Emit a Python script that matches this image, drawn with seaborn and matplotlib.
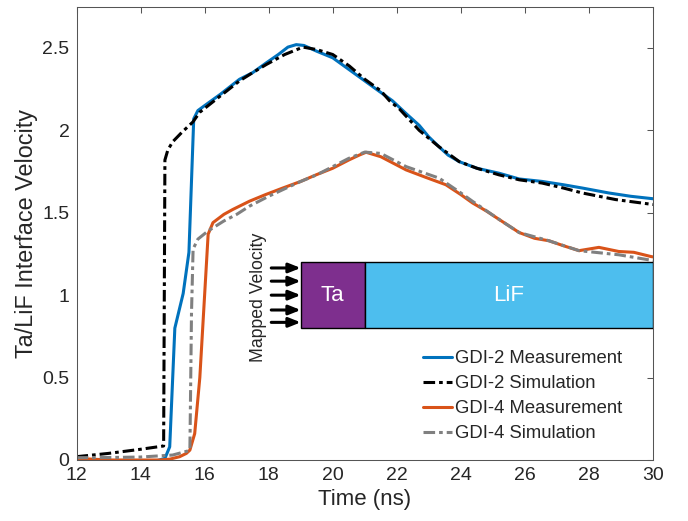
import matplotlib
matplotlib.use("Agg")
import matplotlib.pyplot as plt
import seaborn as sns
import pandas as pd
from matplotlib.patches import Rectangle

# ---------------- data ----------------
series_names = ["GDI-2 Measurement", "GDI-2 Simulation",
                "GDI-4 Measurement", "GDI-4 Simulation"]

gdi2_meas_t = [12.0, 12.5, 13.0, 13.5, 14.0, 14.5, 14.76, 14.91, 15.07, 15.33,
               15.51, 15.66, 15.79, 16.0, 16.5, 17.09, 17.5, 17.93, 18.3, 18.6,
               18.86, 19.1, 19.5, 20.0, 20.5, 21.0, 21.5, 21.86, 22.3, 22.7,
               23.0, 23.32, 23.6, 23.95, 24.5, 25.19, 25.82, 26.54, 27.2, 27.79,
               28.62, 29.3, 30.0]
gdi2_meas_v = [0.0, 0.0, -0.005, -0.005, -0.008, -0.005, 0.01, 0.08, 0.80, 1.01,
               1.26, 2.07, 2.12, 2.15, 2.22, 2.31, 2.35, 2.41, 2.46, 2.505,
               2.52, 2.515, 2.48, 2.44, 2.37, 2.30, 2.23, 2.18, 2.10, 2.03,
               1.96, 1.90, 1.85, 1.81, 1.77, 1.74, 1.705, 1.69, 1.67, 1.65,
               1.62, 1.60, 1.585]

gdi2_sim_t = [12.0, 13.0, 14.0, 14.72, 14.76, 14.85, 15.0, 15.3, 15.63, 15.85,
              16.5, 17.09, 17.5, 17.93, 18.5, 19.07, 19.5, 20.0, 20.52, 21.0,
              21.5, 21.77, 22.08, 22.7, 23.32, 23.95, 24.5, 25.19, 25.82, 26.54,
              27.2, 27.79, 28.83, 30.0]
gdi2_sim_v = [0.02, 0.04, 0.065, 0.085, 1.82, 1.88, 1.93, 1.99, 2.05, 2.11,
              2.21, 2.30, 2.35, 2.40, 2.46, 2.505, 2.49, 2.46, 2.39, 2.31,
              2.24, 2.18, 2.13, 2.00, 1.90, 1.81, 1.77, 1.73, 1.70, 1.68,
              1.65, 1.62, 1.58, 1.55]

gdi4_meas_t = [12.0, 12.5, 13.0, 13.5, 14.0, 14.6, 14.91, 15.22, 15.43, 15.54,
               15.69, 15.85, 16.11, 16.26, 16.6, 16.88, 17.4, 17.9, 18.44, 19.0,
               19.48, 20.0, 20.5, 20.83, 21.04, 21.5, 22.29, 22.9, 23.53, 24.0,
               24.36, 24.8, 25.19, 25.82, 26.3, 26.75, 27.2, 27.69, 28.31, 28.93,
               29.4, 29.92, 30.0]
gdi4_meas_v = [0.01, 0.005, 0.0, 0.0, 0.0, 0.0, 0.005, 0.02, 0.04, 0.06,
               0.16, 0.50, 1.37, 1.44, 1.49, 1.52, 1.57, 1.61, 1.65, 1.69,
               1.73, 1.77, 1.82, 1.85, 1.867, 1.84, 1.76, 1.715, 1.67, 1.61,
               1.56, 1.51, 1.46, 1.38, 1.345, 1.33, 1.30, 1.27, 1.29, 1.265,
               1.26, 1.235, 1.232]

gdi4_sim_t = [12.0, 13.0, 14.0, 15.0, 15.48, 15.54, 15.59, 15.64, 15.79, 16.11,
              16.6, 17.0, 17.4, 18.0, 18.44, 19.0, 19.5, 20.0, 20.5, 21.0,
              21.5, 22.29, 23.32, 24.0, 24.36, 25.19, 25.82, 26.75, 27.69, 28.93,
              30.0]
gdi4_sim_v = [0.014, 0.015, 0.018, 0.03, 0.055, 0.06, 0.89, 1.28, 1.34, 1.39,
              1.45, 1.49, 1.54, 1.60, 1.64, 1.69, 1.73, 1.78, 1.83, 1.868,
              1.86, 1.78, 1.71, 1.62, 1.57, 1.46, 1.38, 1.33, 1.27, 1.245,
              1.21]

x_ticks = [12, 14, 16, 18, 20, 22, 24, 26, 28, 30]
y_ticks = [0, 0.5, 1, 1.5, 2, 2.5]
y_tick_labels = ["0", "0.5", "1", "1.5", "2", "2.5"]

# inset schematic (data coords)
ta_box = (19.0, 0.8, 2.0, 0.4)
lif_box = (21.0, 0.8, 9.0, 0.4)
arrow_ys = [1.165, 1.085, 1.0, 0.91, 0.835]
arrow_x0, arrow_x1 = 18.08, 19.0

# ---------------- build table ----------------
frames = []
for name, t, v in zip(series_names,
                      [gdi2_meas_t, gdi2_sim_t, gdi4_meas_t, gdi4_sim_t],
                      [gdi2_meas_v, gdi2_sim_v, gdi4_meas_v, gdi4_sim_v]):
    frames.append(pd.DataFrame({"t": t, "v": v, "series": name}))
df = pd.concat(frames, ignore_index=True)

# ---------------- style ----------------
sns.set_style("white")
plt.rcParams["font.family"] = ["Liberation Sans", "DejaVu Sans"]
text_col = "#262626"

palette = {"GDI-2 Measurement": "#0072BD", "GDI-2 Simulation": "#000000",
           "GDI-4 Measurement": "#D95319", "GDI-4 Simulation": "#808080"}
dd = (3.8, 1.3, 1.2, 1.3)
dashes = {"GDI-2 Measurement": "", "GDI-2 Simulation": dd,
          "GDI-4 Measurement": "", "GDI-4 Simulation": dd}

fig = plt.figure(figsize=(6.88, 5.21), dpi=100)
ax = fig.add_axes([0.1112, 0.1171, 0.838, 0.870])

sns.lineplot(data=df, x="t", y="v", hue="series", style="series",
             hue_order=series_names, style_order=series_names,
             palette=palette, dashes=dashes, estimator=None, sort=False,
             linewidth=2.2, legend=False, ax=ax)

ax.set_xlim(12, 30)
ax.set_ylim(0, 2.75)
ax.set_xticks(x_ticks)
ax.set_xticklabels([str(x) for x in x_ticks])
ax.set_yticks(y_ticks)
ax.set_yticklabels(y_tick_labels)

for s in ax.spines.values():
    s.set_visible(True)
    s.set_color("#555555")
    s.set_linewidth(0.75)
ax.tick_params(direction="in", length=4, width=0.75, color="#555555",
               top=True, right=True, labelsize=14, labelcolor=text_col, pad=5)

ax.set_xlabel("Time (ns)", fontsize=16, color=text_col, labelpad=4)
ax.set_ylabel("Ta/LiF Interface Velocity", fontsize=16.8, color=text_col,
              labelpad=3)

# inset schematic
ax.add_patch(Rectangle(ta_box[:2], ta_box[2], ta_box[3], facecolor="#7E2F8E",
                       edgecolor="k", lw=1, zorder=5, clip_on=True))
ax.add_patch(Rectangle(lif_box[:2], lif_box[2], lif_box[3], facecolor="#4DBEEE",
                       edgecolor="k", lw=1, zorder=5, clip_on=True))
ax.text(ta_box[0] + ta_box[2] / 2, ta_box[1] + ta_box[3] / 2, "Ta", color="white",
        fontsize=16, ha="center", va="center", zorder=6)
ax.text(lif_box[0] + lif_box[2] / 2, lif_box[1] + lif_box[3] / 2, "LiF",
        color="white", fontsize=16, ha="center", va="center", zorder=6)
for yy in arrow_ys:
    ax.annotate("", xy=(arrow_x1, yy), xytext=(arrow_x0, yy),
                arrowprops=dict(arrowstyle="-|>,head_length=0.5,head_width=0.2",
                                lw=2.2, color="k", shrinkA=0, shrinkB=0,
                                mutation_scale=14), zorder=6)
ax.text(17.69, 0.99, "Mapped Velocity", rotation=90, fontsize=12.7,
        color=text_col, ha="center", va="center")

# legend
lines = ax.get_lines()[:4]
leg = ax.legend(lines, series_names, loc="upper left",
                bbox_to_anchor=(0.6005, 0.2418), frameon=False, fontsize=13.3,
                handlelength=1.57, handletextpad=0.2, labelspacing=0.43,
                borderpad=0, borderaxespad=0)
for t in leg.get_texts():
    t.set_color(text_col)

fig.savefig("out.png", dpi=100)
